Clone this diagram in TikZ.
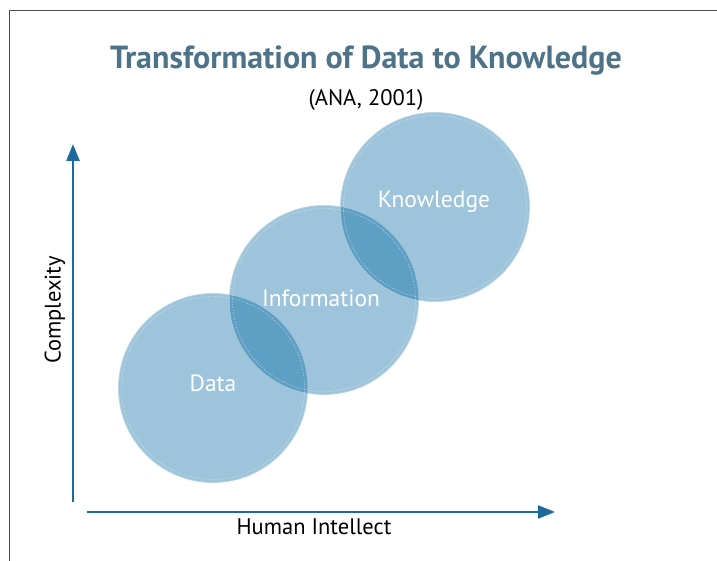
\documentclass[tikz,border=0pt]{standalone}
\usepackage{fontspec}
\setmainfont{PT Sans}
\usepackage{xcolor}
\usetikzlibrary{arrows.meta}
\definecolor{titleblue}{HTML}{4E7388}
\definecolor{axisblue}{HTML}{1C6A9B}
\definecolor{bubblefill}{HTML}{9DC4DA}
\definecolor{bubbleedge}{HTML}{BBD5E4}
\definecolor{lensfill}{HTML}{5F9FC4}
\tikzset{every picture/.style={ampersand replacement=\&}}
\tikzset{
  bubble/.style={circle, minimum size=189pt, inner sep=0pt, fill=bubblefill, draw=bubbleedge, line width=0.8pt},
  ring/.style={draw=white, dash pattern=on 1.5pt off 1.5pt, line width=0.4pt, opacity=0.6},
  tag/.style={text=white, font=\fontsize{23.5}{23.5}\selectfont},
  axis/.style={axisblue, line width=2.4pt, -{Triangle[length=17pt,width=13pt]}},
  caption/.style={font=\fontsize{22.5}{22.5}\selectfont}
}

\begin{document}
\begin{tikzpicture}[x=1pt,y=1pt]
\useasboundingbox (0,0) rectangle (717,561);
% frame
\draw[black!70, line width=1pt] (9,0) -- (9,550) -- (717,550);
\node[titleblue, font=\bfseries\fontsize{32}{32}\selectfont] (title) at (366,500) {Transformation of Data to Knowledge};
\node[caption] (source) at (366,461) {(ANA, 2001)};
% bubbles
\node[bubble] (data) at (213,173) {};
\node[bubble] (info) at (324,261) {};
\node[bubble] (know) at (435,354) {};
\begin{scope}
\clip (data.center) circle (94.5);
\fill[lensfill] (info.center) circle (94.5);
\end{scope}
\begin{scope}
\clip (info.center) circle (94.5);
\fill[lensfill] (know.center) circle (94.5);
\end{scope}
\foreach \b in {data,info,know}
  \draw[ring] (\b.center) circle (91.5);
\node[tag] (datatag) at (213,178) {Data};
\node[tag] (infotag) at (321,263) {Information};
\node[tag] (knowtag) at (434,359) {Knowledge};
% axes
\coordinate (origin) at (73,59);
\coordinate (ytip) at (73,417);
\coordinate (xstart) at (87,49);
\coordinate (xtip) at (555,49);
\draw[axis] (origin) -- (ytip);
\draw[axis] (xstart) -- (xtip);
\node[caption] (xlabel) at (314,34) {Human Intellect};
\node[caption, rotate=90] (ylabel) at (55,251) {Complexity};
\end{tikzpicture}
\end{document}
